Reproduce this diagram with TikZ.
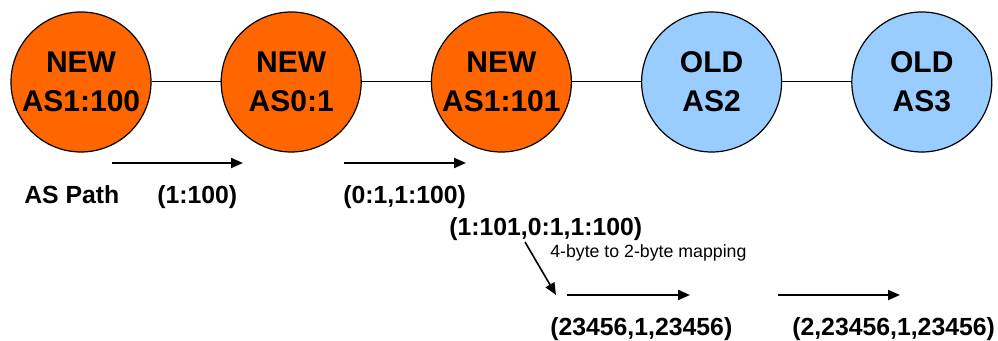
\documentclass[tikz,border=0pt]{standalone}
\usepackage{fontspec}
\setmainfont{Liberation Sans}
\usetikzlibrary{arrows.meta,positioning}

\definecolor{newas}{HTML}{FF6600}
\definecolor{oldas}{HTML}{99CCFF}

\begin{document}
\begin{tikzpicture}[
    x=0.75pt, y=-0.75pt,
    node distance=51.75pt,
    asnew/.style={circle, draw, line width=0.9pt, fill=newas, minimum size=105pt, inner sep=0pt, align=center, font=\fontsize{22.5}{29.5}\selectfont\bfseries},
    asold/.style={asnew, fill=oldas},
    aspath/.style={inner sep=0pt, anchor=base west, font=\fontsize{18.6}{22}\selectfont\bfseries},
    note/.style={inner sep=0pt, anchor=base west, font=\fontsize{13.3}{16}\selectfont},
    flow/.style={line width=1.5pt, -{Triangle[length=9pt,width=7.5pt]}}
]
\useasboundingbox (0,0) rectangle (998,341);

\node[asnew] (as1) at (81,82) {NEW\\AS1:100};
\node[asnew, right=of as1] (as2) {NEW\\AS0:1};
\node[asnew, right=of as2] (as3) {NEW\\AS1:101};
\node[asold, right=of as3] (as4) {OLD\\AS2};
\node[asold, right=of as4] (as5) {OLD\\AS3};

\draw[line width=0.75pt] (as1) -- (as2);
\draw[line width=0.75pt] (as2) -- (as3);
\draw[line width=0.75pt] (as3) -- (as4);
\draw[line width=0.75pt] (as4) -- (as5);

\node[aspath] (lbl) at (24,204) {AS Path};
\node[aspath] (p1) at (157,204) {(1:100)};
\node[aspath] (p2) at (343,204) {(0:1,1:100)};
\node[aspath] (p3) at (449,236) {(1:101,0:1,1:100)};
\node[note] (map) at (550,258) {4-byte to 2-byte mapping};
\node[aspath] (p4) at (550,336) {(23456,1,23456)};
\node[aspath] (p5) at (792,336) {(2,23456,1,23456)};

\coordinate (f1s) at (112,163);
\coordinate (f1e) at (243,163);
\coordinate (f2s) at (344,163);
\coordinate (f2e) at (466,163);
\coordinate (f3s) at (567,295);
\coordinate (f3e) at (690,295);
\coordinate (f4s) at (778,295);
\coordinate (f4e) at (900,295);
\coordinate (ms) at (525,242);
\coordinate (me) at (556,295);

\draw[flow] (f1s) -- (f1e);
\draw[flow] (f2s) -- (f2e);
\draw[flow] (f3s) -- (f3e);
\draw[flow] (f4s) -- (f4e);
\draw[flow, line width=1.2pt] (ms) -- (me);

\end{tikzpicture}
\end{document}
